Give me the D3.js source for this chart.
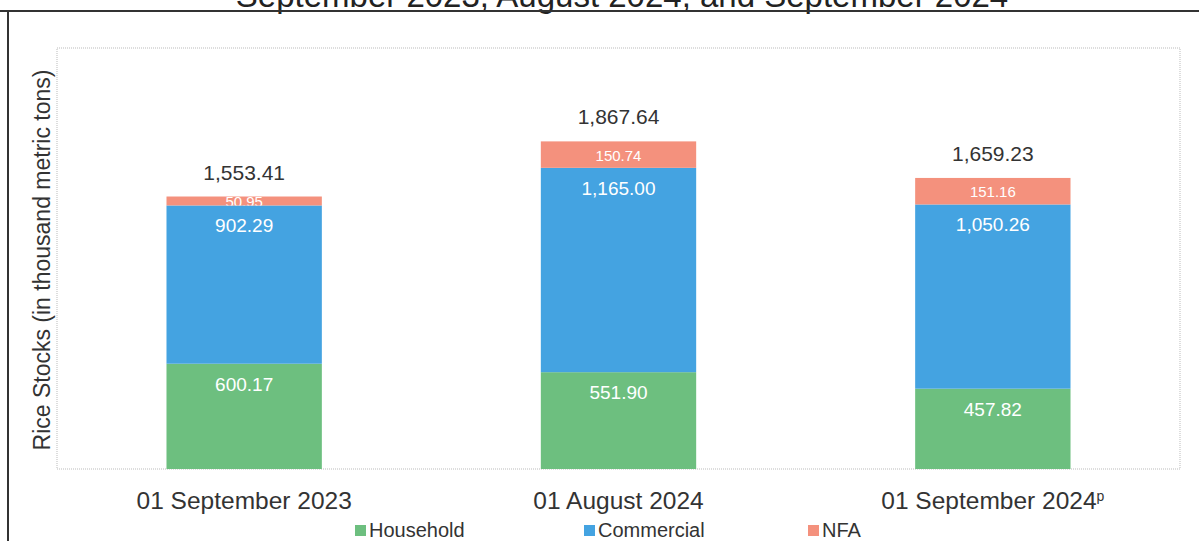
<!DOCTYPE html>
<html>
<head>
<meta charset="utf-8">
<script src="https://cdn.jsdelivr.net/npm/d3@7"></script>
<style>
  body { margin: 0; background: #fff; }
  text { font-family: "Liberation Sans", Arial, sans-serif; }
</style>
</head>
<body>
<div class="d3Chart"></div>
<script>
// data
var categories = ["01 September 2023", "01 August 2024", "01 September 2024"];
var household = [600.17, 551.9, 457.82];
var commercial = [902.29, 1165.0, 1050.26];
var nfa = [50.95, 150.74, 151.16];
var totals = [1553.41, 1867.64, 1659.23];
var seriesNames = ["Household", "Commercial", "NFA"];
var seriesColors = ["#6dbf7f", "#44a3e1", "#f4917d"];

var width = 1199;
var height = 541;
var plot = { left: 57, right: 1180, top: 48, bottom: 469 };

var svg = d3
  .select(".d3Chart")
  .append("svg")
  .attr("width", width)
  .attr("height", height)
  .style("display", "block");

// 標題 (cut off at top in the source)
svg
  .append("text")
  .attr("x", 622)
  .attr("y", 7)
  .attr("text-anchor", "middle")
  .attr("font-size", 33)
  .attr("fill", "#222")
  .text("September 2023, August 2024, and September 2024");

// frame
svg.append("line").attr("x1", 0).attr("x2", width).attr("y1", 11).attr("y2", 11)
  .attr("stroke", "#333").attr("stroke-width", 2);
svg.append("line").attr("x1", 8).attr("x2", 8).attr("y1", 10).attr("y2", height)
  .attr("stroke", "#333").attr("stroke-width", 2);

// plot box
svg
  .append("rect")
  .attr("x", plot.left)
  .attr("y", plot.top)
  .attr("width", plot.right - plot.left)
  .attr("height", plot.bottom - plot.top)
  .attr("fill", "none")
  .attr("stroke", "#bbb")
  .attr("stroke-width", 1)
  .attr("stroke-dasharray", "1,1");

// scales
var x = d3
  .scaleBand()
  .domain(categories)
  .range([plot.left, plot.right])
  .paddingInner(0.585)
  .paddingOuter(0.2925);

var y = d3.scaleLinear().domain([0, 2400]).range([plot.bottom, plot.top]);

var rows = categories.map(function (c, i) {
  return { cat: c, Household: household[i], Commercial: commercial[i], NFA: nfa[i], total: totals[i] };
});

var stacked = d3.stack().keys(seriesNames)(rows);

var layers = svg
  .selectAll(".layer")
  .data(stacked)
  .enter()
  .append("g")
  .attr("class", "layer")
  .attr("fill", function (d, i) { return seriesColors[i]; });

layers
  .selectAll("rect")
  .data(function (d) { return d; })
  .enter()
  .append("rect")
  .attr("x", function (d) { return x(d.data.cat); })
  .attr("width", x.bandwidth())
  .attr("y", function (d) { return y(d[1]); })
  .attr("height", function (d) { return y(d[0]) - y(d[1]); });

// clip paths so labels stay inside their segment
var defs = svg.append("defs");
stacked.forEach(function (layer, li) {
  layer.forEach(function (d, i) {
    defs
      .append("clipPath")
      .attr("id", "clip-" + li + "-" + i)
      .append("rect")
      .attr("x", x(d.data.cat))
      .attr("width", x.bandwidth())
      .attr("y", y(d[1]) - 2)
      .attr("height", y(d[0]) - y(d[1]) + 2);
  });
});

// segment labels
var fmt = d3.format(",.2f");
layers.each(function (layer, li) {
  d3.select(this)
    .selectAll("text")
    .data(layer)
    .enter()
    .append("text")
    .attr("clip-path", function (d, i) { return "url(#clip-" + li + "-" + i + ")"; })
    .attr("x", function (d) { return x(d.data.cat) + x.bandwidth() / 2; })
    .attr("y", function (d) {
      var top = y(d[1]);
      var h = y(d[0]) - y(d[1]);
      return h < 40 ? top + h / 2 + 6 : top + 27;
    })
    .attr("text-anchor", "middle")
    .attr("font-size", function () { return li === 2 ? 15 : 19; })
    .attr("fill", "#fff")
    .text(function (d) { return fmt(d[1] - d[0]); });
});

// total labels
svg
  .selectAll(".total")
  .data(rows)
  .enter()
  .append("text")
  .attr("class", "total")
  .attr("x", function (d) { return x(d.cat) + x.bandwidth() / 2; })
  .attr("y", function (d) { return y(d.total) - 17; })
  .attr("text-anchor", "middle")
  .attr("font-size", 21)
  .attr("fill", "#333")
  .text(function (d) { return fmt(d.total); });

// x axis labels
var xl = svg
  .selectAll(".xlab")
  .data(categories)
  .enter()
  .append("text")
  .attr("class", "xlab")
  .attr("x", function (d) { return x(d) + x.bandwidth() / 2; })
  .attr("y", 509)
  .attr("text-anchor", "middle")
  .attr("font-size", 24.5)
  .attr("fill", "#333");
xl.append("tspan").text(function (d) { return d; });
xl.filter(function (d, i) { return i === 2; })
  .append("tspan")
  .attr("dy", -8)
  .attr("font-size", 14)
  .text("p");

// y axis title
svg
  .append("text")
  .attr("transform", "translate(50,260) rotate(-90)")
  .attr("text-anchor", "middle")
  .attr("font-size", 23)
  .attr("fill", "#333")
  .text("Rice Stocks (in thousand metric tons)");

// legend
var legendX = [355, 584, 808];
var legend = svg
  .selectAll(".legend")
  .data(seriesNames)
  .enter()
  .append("g")
  .attr("class", "legend")
  .attr("transform", function (d, i) { return "translate(" + legendX[i] + ",537)"; });
legend
  .append("rect")
  .attr("x", 0)
  .attr("y", -12)
  .attr("width", 11)
  .attr("height", 11)
  .attr("fill", function (d, i) { return seriesColors[i]; });
legend
  .append("text")
  .attr("x", 14)
  .attr("y", 0)
  .attr("font-size", 20)
  .attr("fill", "#333")
  .text(function (d) { return d; });
</script>
</body>
</html>
